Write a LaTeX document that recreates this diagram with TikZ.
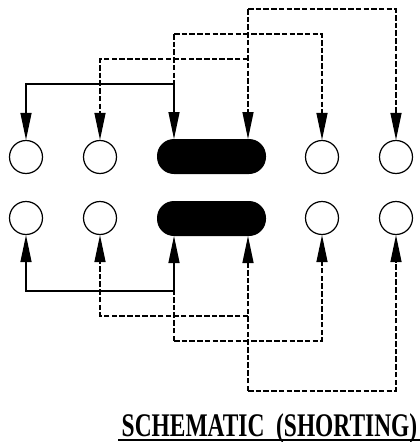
\documentclass[tikz,border=0pt]{standalone}
\usepackage{graphicx}
\usepackage{fontspec}
\setmainfont{Liberation Serif}
\usetikzlibrary{arrows.meta}

\begin{document}
\begin{tikzpicture}[
            x=1pt, y=-1pt,
            pin/.style={circle, draw, line width=1.2pt, fill=white, minimum size=33pt, inner sep=0pt},
            contact/.style={rectangle, fill=black, rounded corners=17pt, minimum width=109pt, minimum height=35pt, inner sep=0pt},
            solidwire/.style={line width=1.3pt, -{Triangle[length=27pt,width=11pt]}},
            dashwire/.style={solidwire, dash pattern=on 5.5pt off 2.2pt},
            plainwire/.style={line width=1.3pt},
            dashbranch/.style={plainwire, dash pattern=on 5.5pt off 2.2pt}
        ]
            \useasboundingbox (0,0) rectangle (420,442);

            % Top row
            \node[pin] (topa) at (26,157) {};
            \node[pin] (topb) at (100,157) {};
            \node[contact] (topc) at (211.5,156.5) {};
            \node[pin] (topd) at (322,157) {};
            \node[pin] (tope) at (396,157) {};

            % Bottom row
            \node[pin] (bota) at (26,218) {};
            \node[pin] (botb) at (100,218) {};
            \node[contact] (botc) at (211.5,218.5) {};
            \node[pin] (botd) at (322,218) {};
            \node[pin] (bote) at (396,218) {};

            % Ends on the black contacts and wire junctions
            \coordinate (topcl) at (174,139);
            \coordinate (topcr) at (248,139);
            \coordinate (botcl) at (174,236);
            \coordinate (botcr) at (248,236);
            \coordinate (jtopa) at (174,84);
            \coordinate (jtopb) at (248,59);
            \coordinate (jtopc) at (174,34);
            \coordinate (jtopd) at (248,9);
            \coordinate (jbota) at (174,291);
            \coordinate (jbotb) at (248,316);
            \coordinate (jbotc) at (174,341);
            \coordinate (jbotd) at (248,391);

            % Top wires
            \draw[solidwire] (jtopa) -| (topa.north);
            \draw[solidwire] (jtopa) -- (topcl);
            \draw[dashwire] (jtopb) -| (topb.north);
            \draw[dashwire] (jtopc) -| (topd.north);
            \draw[dashbranch] (jtopc) -- (jtopa);
            \draw[dashwire] (jtopd) -| (tope.north);
            \draw[dashwire] (jtopd) -- (topcr);

            % Bottom wires
            \draw[solidwire] (jbota) -| (bota.south);
            \draw[solidwire] (jbota) -- (botcl);
            \draw[dashwire] (jbotb) -| (botb.south);
            \draw[dashwire] (jbotc) -| (botd.south);
            \draw[dashbranch] (jbotc) -- (jbota);
            \draw[dashwire] (jbotd) -| (bote.south);
            \draw[dashwire] (jbotd) -- (botcr);

            % Title
            \node[inner sep=0pt, anchor=base] (title) at (269.5,436) {\scalebox{.71}[1]{\fontsize{33}{33}\selectfont\bfseries SCHEMATIC\ \ (SHORTING)}};
            \draw[plainwire] (118,440) -- (420,440);

        \end{tikzpicture}
\end{document}
